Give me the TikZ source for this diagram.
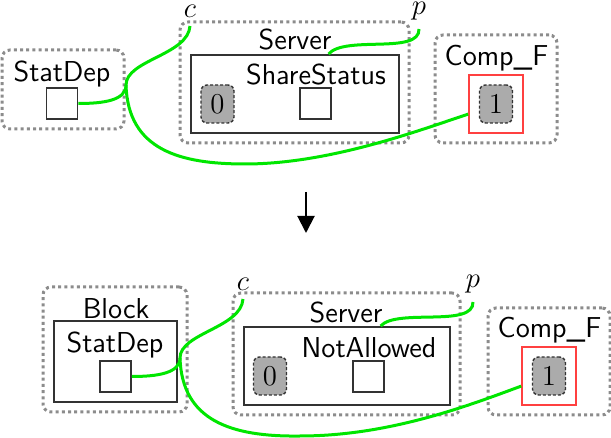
\documentclass[tikz,border=0pt]{standalone}
\definecolor{wiregreen}{HTML}{00E600}
\definecolor{dotgray}{HTML}{8C8C8C}
\definecolor{linegray}{HTML}{333333}
\definecolor{tokengray}{HTML}{ABABAB}
\definecolor{portred}{HTML}{FF4040}
\usepackage{tikz}
\usetikzlibrary{positioning, arrows.meta}

\tikzset{
  comp/.style={draw=dotgray, line width=1.5pt, dash pattern=on 1.5pt off 1.6pt,
               rounded corners=4pt, inner sep=0pt},
  solidbox/.style={draw=linegray, line width=1pt, inner sep=0pt},
  port/.style={draw=linegray, line width=0.8pt, minimum size=15.5pt, inner sep=0pt},
  token/.style={draw=linegray, fill=tokengray, line width=0.7pt, dash pattern=on 1.5pt off 1pt,
                rounded corners=3pt, minimum width=16.5pt, minimum height=19pt,
                inner sep=0pt, font=\Large},
  redbox/.style={draw=portred, line width=0.8pt, minimum width=27pt, minimum height=29pt, inner sep=0pt},
  heading/.style={font=\sffamily\Large, anchor=base, inner sep=0pt},
  endlabel/.style={font=\Large, inner sep=1pt},
  wire/.style={draw=wiregreen, line width=1.5pt},
}

\begin{document}
\begin{tikzpicture}[x=0.5pt, y=-0.5pt]
\useasboundingbox (0,0) rectangle (611,438);

% before
\node[comp, minimum width=61pt, minimum height=39.5pt] (statA) at (63,89.5) {};
\node[heading] (statAT) at (62,82) {StatDep};
\node[port] (sqA) at (62,103.5) {};
\node[comp, minimum width=114.5pt, minimum height=60.5pt] (serverA) at (294.5,82.5) {};
\node[heading] (serverAT) at (295,50) {Server};
\node[solidbox, minimum width=104pt, minimum height=39pt] (shareA) at (295,94) {};
\node[heading] (shareAT) at (316,85) {ShareStatus};
\node[token] (zeroA) at (217.5,104) {$0$};
\node[port] (sqShare) at (315.5,103.5) {};
\node[comp, minimum width=61pt, minimum height=54pt] (compA) at (496,89) {};
\node[heading] (compAT) at (496.5,66) {Comp\_F};
\node[redbox] (redA) at (496,104) {};
\node[token] (oneA) at (496,104) {$1$};

\coordinate (jA) at (126,85);
\coordinate (cA) at (190,26);
\coordinate (pA) at (419,29);
\node[endlabel, above=3pt of cA] (cLabA) {$c$};
\node[endlabel, above=3pt of pA] (pLabA) {$p$};

\draw[wire] (sqA.east) .. controls (105,103.5) and (126,100) .. (jA)
  .. controls (126,60) and (188,55) .. (cA);
\draw[wire] (jA) .. controls (128,150) and (180,164) .. (245,164)
  .. controls (330,164) and (420,130) .. (redA.200);
\draw[wire] (shareA.50) .. controls (345,35) and (420,55) .. (pA);

% step
\coordinate (arrTop) at (306,192);
\coordinate (arrBot) at (306,233);
\draw[line width=1pt, -{Triangle[width=8.5pt,length=8.5pt]}] (arrTop) -- (arrBot);

% after
\node[comp, minimum width=72pt, minimum height=62.5pt] (blockB) at (115,349.5) {};
\node[heading] (blockBT) at (116,319) {Block};
\node[solidbox, minimum width=61.5pt, minimum height=40.5pt] (statB) at (115.5,361.5) {};
\node[heading] (statBT) at (115,353) {StatDep};
\node[port] (sqB) at (115.5,376.5) {};
\node[comp, minimum width=113.5pt, minimum height=61pt] (serverB) at (346.5,354) {};
\node[heading] (serverBT) at (346,323) {Server};
\node[solidbox, minimum width=103pt, minimum height=39pt] (notB) at (347,366) {};
\node[heading] (notBT) at (369,358) {NotAllowed};
\node[token] (zeroB) at (270,376) {$0$};
\node[port] (sqNot) at (368.5,376.5) {};
\node[comp, minimum width=61pt, minimum height=53.5pt] (compB) at (549,361.5) {};
\node[heading] (compBT) at (549.5,338) {Comp\_F};
\node[redbox] (redB) at (549,376) {};
\node[token] (oneB) at (549,376) {$1$};

\coordinate (jB) at (180,358);
\coordinate (cB) at (243,299);
\coordinate (pB) at (473,302);
\node[endlabel, above=3pt of cB] (cLabB) {$c$};
\node[endlabel, above=3pt of pB] (pLabB) {$p$};

\draw[wire] (sqB.east) .. controls (158,376.5) and (180,373) .. (jB)
  .. controls (180,333) and (241,328) .. (cB);
\draw[wire] (jB) .. controls (182,420) and (230,437) .. (300,436)
  .. controls (390,436) and (470,405) .. (redB.200);
\draw[wire] (notB.50) .. controls (397,308) and (474,328) .. (pB);
\end{tikzpicture}
\end{document}
